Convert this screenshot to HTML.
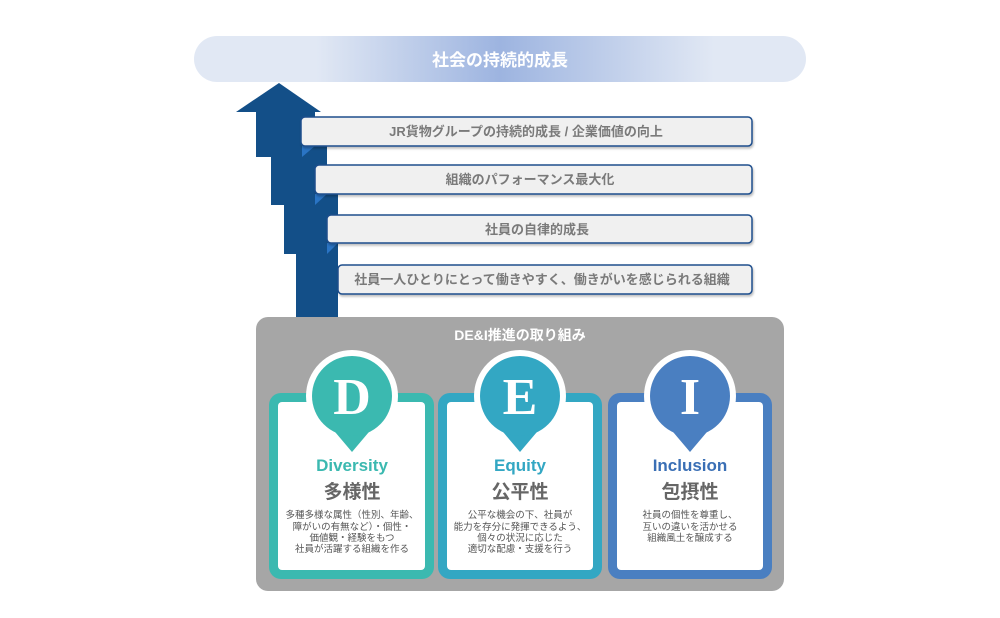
<!DOCTYPE html>
<html><head><meta charset="utf-8"><style>
html,body{margin:0;padding:0;background:#fff;}
svg{display:block;}
text{font-family:"Liberation Sans","Noto Sans CJK JP",sans-serif;}
</style></head><body>
<svg width="1000" height="618" viewBox="0 0 1000 618" xmlns="http://www.w3.org/2000/svg">
<defs>
<linearGradient id="pg" x1="0" x2="1" y1="0" y2="0">
<stop offset="0" stop-color="#e1e8f4"/><stop offset="0.2" stop-color="#e1e8f4"/>
<stop offset="0.5" stop-color="#9db4e0"/><stop offset="0.85" stop-color="#e1e8f4"/><stop offset="1" stop-color="#e1e8f4"/>
</linearGradient>
<filter id="sh" x="-5%" y="-20%" width="110%" height="150%"><feDropShadow dx="1" dy="2" stdDeviation="1" flood-color="#000" flood-opacity="0.25"/></filter>
</defs>
<rect x="194" y="36" width="612" height="46" rx="23" fill="url(#pg)"/>
<text x="500" y="66" text-anchor="middle" font-size="17" font-weight="bold" fill="#fff">社会の持続的成長</text>

<g fill="#134f88">
<polygon points="279,83 321,112 236,112"/>
<rect x="256" y="111" width="59" height="46"/>
<rect x="271" y="146" width="56" height="59"/>
<rect x="284" y="194" width="54" height="60"/>
<rect x="296" y="243" width="42" height="75"/>
</g>
<g fill="#2a74c4">
<polygon points="302,146 315,146 302,157"/>
<polygon points="315,194 327,194 315,205"/>
<polygon points="327,243 338,243 327,254"/>
</g>

<g stroke="#1f4e8c" stroke-width="1.5" fill="#f0f0f0" filter="url(#sh)">
<rect x="301" y="117" width="451" height="29" rx="4"/>
<rect x="315" y="165" width="437" height="29" rx="4"/>
<rect x="327" y="215" width="425" height="28" rx="4"/>
<rect x="338" y="265" width="414" height="29" rx="4"/>
</g>
<g font-size="13" font-weight="bold" fill="#7a7a7a" text-anchor="middle">
<text x="526" y="136">JR貨物グループの持続的成長 / 企業価値の向上</text>
<text x="530" y="184">組織のパフォーマンス最大化</text>
<text x="537" y="234">社員の自律的成長</text>
<text x="542" y="284">社員一人ひとりにとって働きやすく、働きがいを感じられる組織</text>
</g>

<rect x="256" y="317" width="528" height="274" rx="12" fill="#a6a6a6"/>
<text x="520" y="340" text-anchor="middle" font-size="14" font-weight="bold" fill="#fff">DE&amp;I推進の取り組み</text>

<g>
<rect x="269" y="393" width="165" height="186" rx="12" fill="#3bb9b0"/>
<rect x="278" y="402" width="147" height="168" rx="4" fill="#fff"/>
<rect x="438" y="393" width="164" height="186" rx="12" fill="#33a7c3"/>
<rect x="447" y="402" width="146" height="168" rx="4" fill="#fff"/>
<rect x="608" y="393" width="164" height="186" rx="12" fill="#4a7fc1"/>
<rect x="617" y="402" width="146" height="168" rx="4" fill="#fff"/>
</g>
<g>
<circle cx="352" cy="396" r="46" fill="#fff"/>
<path d="M330,426 L352,452 L374,426 Z" fill="#3bb9b0"/>
<circle cx="352" cy="396" r="40" fill="#3bb9b0"/>
<circle cx="520" cy="396" r="46" fill="#fff"/>
<path d="M498,426 L520,452 L542,426 Z" fill="#33a7c3"/>
<circle cx="520" cy="396" r="40" fill="#33a7c3"/>
<circle cx="690" cy="396" r="46" fill="#fff"/>
<path d="M668,426 L690,452 L712,426 Z" fill="#4a7fc1"/>
<circle cx="690" cy="396" r="40" fill="#4a7fc1"/>
</g>
<g font-size="52" font-weight="bold" fill="#fff" text-anchor="middle">
<text x="352" y="414" style="font-family:'Liberation Serif',serif">D</text>
<text x="520" y="414" style="font-family:'Liberation Serif',serif">E</text>
<text x="690" y="414" style="font-family:'Liberation Serif',serif">I</text>
</g>
<g font-size="17" font-weight="bold" text-anchor="middle">
<text x="352" y="471" fill="#3bb9b0">Diversity</text>
<text x="520" y="471" fill="#33a7c3">Equity</text>
<text x="690" y="471" fill="#3a6fb5">Inclusion</text>
</g>
<g font-size="19" font-weight="bold" text-anchor="middle" fill="#666">
<text x="352" y="498">多様性</text>
<text x="520" y="498">公平性</text>
<text x="690" y="498">包摂性</text>
</g>
<g font-size="9.5" text-anchor="middle" fill="#555">
<text x="352" y="518">多種多様な属性（性別、年齢、</text>
<text x="352" y="530">障がいの有無など）・個性・</text>
<text x="352" y="541">価値観・経験をもつ</text>
<text x="352" y="552">社員が活躍する組織を作る</text>
<text x="520" y="518">公平な機会の下、社員が</text>
<text x="520" y="530">能力を存分に発揮できるよう、</text>
<text x="520" y="541">個々の状況に応じた</text>
<text x="520" y="552">適切な配慮・支援を行う</text>
<text x="690" y="518">社員の個性を尊重し、</text>
<text x="690" y="530">互いの違いを活かせる</text>
<text x="690" y="541">組織風土を醸成する</text>
</g>
</svg>
</body></html>
